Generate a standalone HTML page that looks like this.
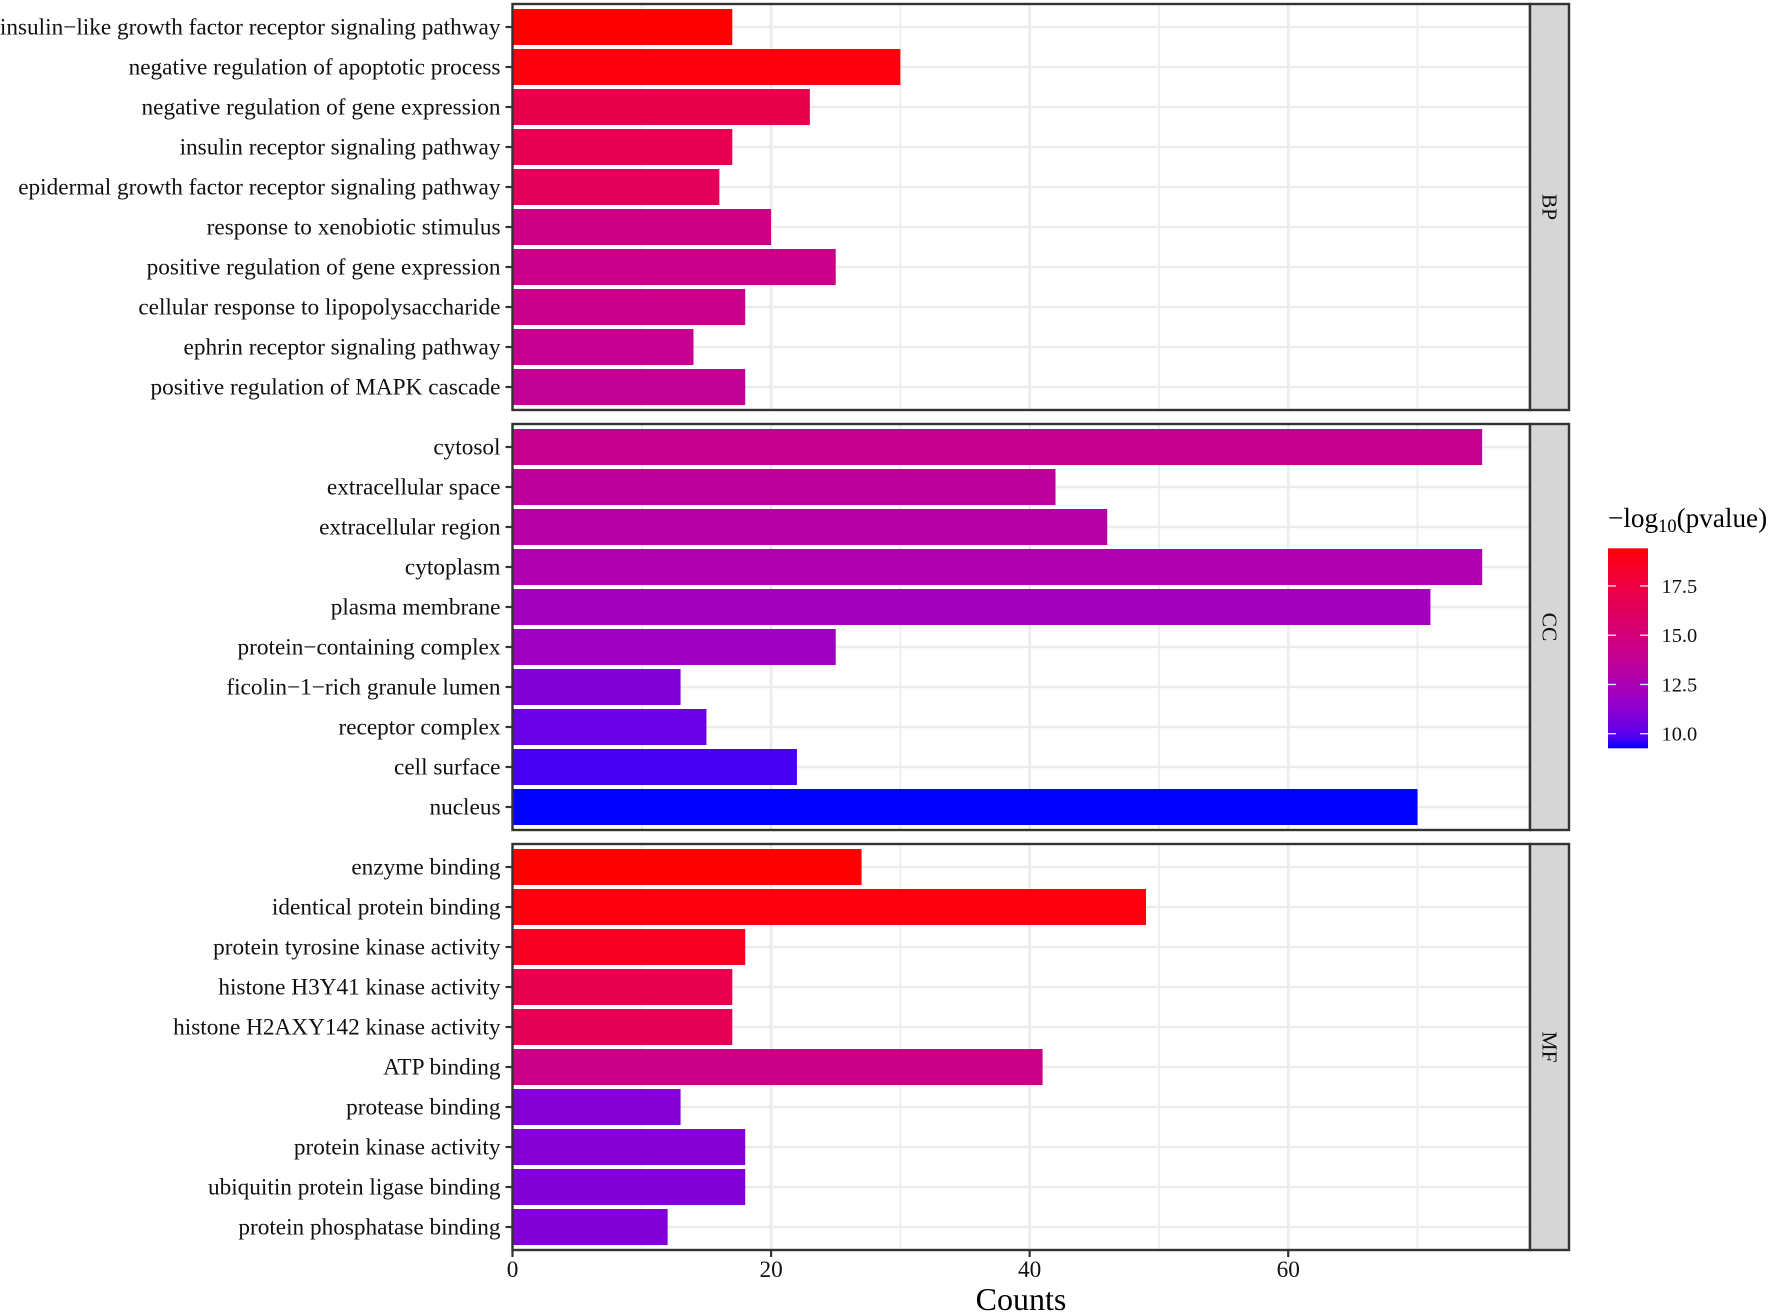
<!DOCTYPE html>
<html lang="en">
<head>
<meta charset="utf-8">
<title>GO enrichment bar chart</title>
<style>
html,body{margin:0;padding:0;background:#fff;width:1772px;height:1314px;overflow:hidden}
svg{display:block;font-family:"Liberation Serif",serif;filter:blur(0.35px)}
</style>
</head>
<body>
<svg id="chart" xmlns="http://www.w3.org/2000/svg" width="1772" height="1314" viewBox="0 0 1772 1314">
<defs>
<linearGradient id="legendGradient" x1="0" y1="1" x2="0" y2="0"></linearGradient>
</defs>
<text x="1021" y="1310" font-size="32" text-anchor="middle" fill="#000">Counts</text>
<text x="1608" y="527" font-size="27.2" fill="#000">−log<tspan font-size="18.5" dy="5">10</tspan><tspan dy="-5">(pvalue)</tspan></text>
</svg>
<script>
const bpTerms = ["insulin−like growth factor receptor signaling pathway","negative regulation of apoptotic process","negative regulation of gene expression","insulin receptor signaling pathway","epidermal growth factor receptor signaling pathway","response to xenobiotic stimulus","positive regulation of gene expression","cellular response to lipopolysaccharide","ephrin receptor signaling pathway","positive regulation of MAPK cascade"];
const bpCounts = [17,30,23,17,16,20,25,18,14,18];
const bpLogP = [19.4,19.2,17.0,16.8,16.4,14.5,14.3,14.2,14.0,13.8];
const ccTerms = ["cytosol","extracellular space","extracellular region","cytoplasm","plasma membrane","protein−containing complex","ficolin−1−rich granule lumen","receptor complex","cell surface","nucleus"];
const ccCounts = [75,42,46,75,71,25,13,15,22,70];
const ccLogP = [14.1,13.5,13.1,12.7,12.1,11.9,10.9,10.3,9.7,9.26];
const mfTerms = ["enzyme binding","identical protein binding","protein tyrosine kinase activity","histone H3Y41 kinase activity","histone H2AXY142 kinase activity","ATP binding","protease binding","protein kinase activity","ubiquitin protein ligase binding","protein phosphatase binding"];
const mfCounts = [27,49,18,17,17,41,13,18,18,12];
const mfLogP = [19.41,19.2,18.6,16.9,16.6,14.4,11.0,11.0,10.9,10.9];
const facetNames = ["BP","CC","MF"];
const xMajorTicks = [0,20,40,60];
const xMinorTicks = [10,30,50,70];
const legendTicks = [10,12.5,15,17.5];
const legendTickLabels = ["10.0","12.5","15.0","17.5"];
const xDomainMax = 78.7;
const colorMin = 9.26;
const colorMax = 19.41;

const svg = document.getElementById('chart');
const NS = 'http://www.w3.org/2000/svg';
const panelLeft = 512.5, panelRight = 1530, stripRight = 1569, panelHeight = 406, panelGap = 420, panelTop0 = 4;
const legendLeft = 1608, legendRight = 1648, legendTop = 548.3, legendBottom = 748.3;

function xScale(v){ return panelLeft + v * (panelRight - panelLeft) / xDomainMax; }
function yScale(panel, i){ return panelTop0 + panel * panelGap + 23 + 40 * i; }
function legendY(v){ return legendBottom - (v - colorMin) * (legendBottom - legendTop) / (colorMax - colorMin); }

function labToRgb(L, a, b){
  const fy = (L + 16) / 116, fx = fy + a / 500, fz = fy - b / 200;
  const finv = t => t > 6 / 29 ? t * t * t : 3 * (6 / 29) * (6 / 29) * (t - 4 / 29);
  const X = 0.95047 * finv(fx), Y = finv(fy), Z = 1.08883 * finv(fz);
  const lin = [3.2406 * X - 1.5372 * Y - 0.4986 * Z, -0.9689 * X + 1.8758 * Y + 0.0415 * Z, 0.0557 * X - 0.2040 * Y + 1.0570 * Z];
  const ch = lin.map(c => {
    c = Math.min(1, Math.max(0, c));
    const s = c <= 0.0031308 ? 12.92 * c : 1.055 * Math.pow(c, 1 / 2.4) - 0.055;
    return Math.round(s * 255);
  });
  return 'rgb(' + ch.join(',') + ')';
}
function colorScale(v){
  const t = Math.min(1, Math.max(0, (v - colorMin) / (colorMax - colorMin)));
  return labToRgb(32.3 + t * (53.24 - 32.3), 79.2 + t * (80.09 - 79.2), -107.86 + t * (67.2 + 107.86));
}
function make(tag, attrs, parent){
  const el = document.createElementNS(NS, tag);
  for (const k in attrs) el.setAttribute(k, attrs[k]);
  (parent || svg).appendChild(el);
  return el;
}
function drawPanel(p, terms, counts, logp){
  const top = panelTop0 + p * panelGap, bottom = top + panelHeight;
  const bg = make('rect', {x: panelLeft, y: top, width: panelRight - panelLeft, height: panelHeight, fill: '#fff'});
  
  
  xMinorTicks.forEach(v => {
    const g = make('line', {x1: xScale(v), x2: xScale(v), y1: top, y2: bottom, stroke: '#eeeeee', 'stroke-width': 1.8});
    
    
  });
  xMajorTicks.forEach(v => {
    const g = make('line', {x1: xScale(v), x2: xScale(v), y1: top, y2: bottom, stroke: '#ececec', 'stroke-width': 2.6});
    
    
  });
  terms.forEach((term, i) => {
    const y = yScale(p, i);
    const g = make('line', {x1: panelLeft, x2: panelRight, y1: y, y2: y, stroke: '#ececec', 'stroke-width': 2.6});
    
    
  });
  terms.forEach((term, i) => {
    const y = yScale(p, i);
    const bar = make('rect', {x: xScale(0), y: y - 18, width: xScale(counts[i]) - xScale(0), height: 36, fill: colorScale(logp[i])});
    
    
    const tick = make('line', {x1: panelLeft - 7, x2: panelLeft, y1: y, y2: y, stroke: '#333', 'stroke-width': 2.2});
    
    
    const label = make('text', {x: panelLeft - 12, y: y + 7.3, 'text-anchor': 'end', 'font-size': 23.25, fill: '#111'});
    
    
    label.textContent = term;
  });
  const border = make('rect', {x: panelLeft, y: top, width: panelRight - panelLeft, height: panelHeight, fill: 'none', stroke: '#333', 'stroke-width': 2.4});
  
  
  const strip = make('rect', {x: panelRight, y: top, width: stripRight - panelRight, height: panelHeight, fill: '#d6d6d6', stroke: '#333', 'stroke-width': 2.4});
  
  
  const cx = (panelRight + stripRight) / 2, cy = (top + bottom) / 2;
  const st = make('text', {x: cx, y: cy, transform: 'rotate(90 ' + cx + ' ' + cy + ')', 'text-anchor': 'middle', 'dominant-baseline': 'central', 'font-size': 21.5, fill: '#111'});
  
  
  st.textContent = facetNames[p];
}
drawPanel(0, bpTerms, bpCounts, bpLogP);
drawPanel(1, ccTerms, ccCounts, ccLogP);
drawPanel(2, mfTerms, mfCounts, mfLogP);

const axisY = panelTop0 + 2 * panelGap + panelHeight;
xMajorTicks.forEach(v => {
  const t = make('line', {x1: xScale(v), x2: xScale(v), y1: axisY, y2: axisY + 7, stroke: '#333', 'stroke-width': 2.2});
  
  
  const l = make('text', {x: xScale(v), y: axisY + 27, 'text-anchor': 'middle', 'font-size': 23.25, fill: '#111'});
  
  
  l.textContent = String(v);
});

const grad = document.getElementById('legendGradient');
for (let s = 0; s <= 20; s++) {
  const v = colorMin + (colorMax - colorMin) * s / 20;
  make('stop', {offset: (s / 20), 'stop-color': colorScale(v)}, grad);
}
const cbar = make('rect', {x: legendLeft, y: legendTop, width: legendRight - legendLeft, height: legendBottom - legendTop, fill: 'url(#legendGradient)'});


legendTicks.forEach((v, i) => {
  const y = legendY(v);
  const a = make('line', {x1: legendLeft, x2: legendLeft + 8, y1: y, y2: y, stroke: '#fff', 'stroke-width': 1.4, 'stroke-opacity': 0.85});
  
  
  const b = make('line', {x1: legendRight - 8, x2: legendRight, y1: y, y2: y, stroke: '#fff', 'stroke-width': 1.4, 'stroke-opacity': 0.85});
  
  
  const l = make('text', {x: 1661.5, y: y + 7, 'font-size': 20.4, fill: '#111'});
  
  
  l.textContent = legendTickLabels[i];
});
</script>
</body>
</html>
